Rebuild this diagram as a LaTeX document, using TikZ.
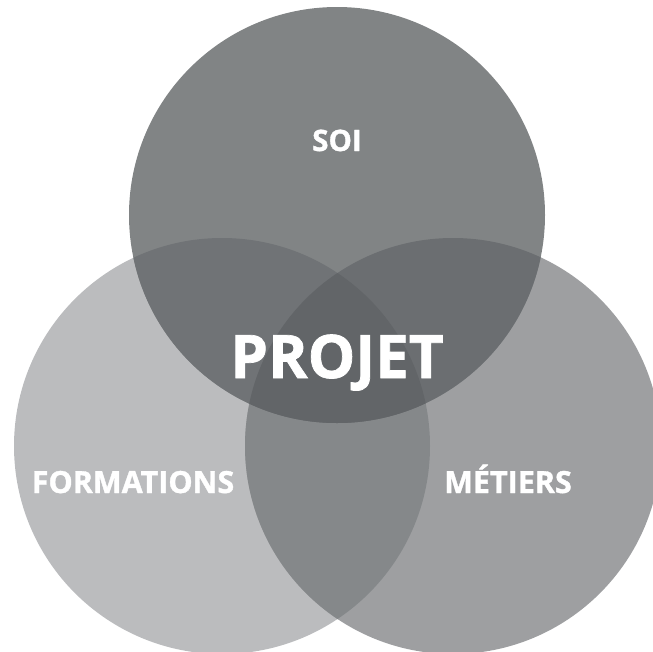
\documentclass[tikz,border=0pt]{standalone}
\usepackage{fontspec}
\setmainfont{Open Sans}[BoldFeatures={FakeBold=1.2}]
\usetikzlibrary{positioning}
\usepackage{xcolor}

\definecolor{soigray}{HTML}{818485}
\definecolor{formgray}{HTML}{BBBCBE}
\definecolor{metgray}{HTML}{9E9FA1}
\definecolor{soiform}{HTML}{707376}
\definecolor{soimet}{HTML}{6B6E71}
\definecolor{formmet}{HTML}{85888A}
\definecolor{projgray}{HTML}{626568}

\begin{document}
\begin{tikzpicture}[x=1pt,y=-1pt]
                \tikzstyle{venntext} = [text=white, font=\bfseries, inner sep=0pt, anchor=base];

                \useasboundingbox (0,0) rectangle (653,651);
                \clip (0,0) rectangle (653,651);

                \coordinate (S) at (337,215);
                \coordinate (F) at (222,446);
                \coordinate (M) at (453,446);
                \def\rad{208}

                % circles
                \fill[formgray] (F) circle (\rad);
                \fill[metgray] (M) circle (\rad);
                \fill[soigray] (S) circle (\rad);

                % overlaps
                \begin{scope}
                    \clip (F) circle (\rad);
                    \fill[formmet] (M) circle (\rad);
                \end{scope}
                \begin{scope}
                    \clip (S) circle (\rad);
                    \fill[soiform] (F) circle (\rad);
                \end{scope}
                \begin{scope}
                    \clip (S) circle (\rad);
                    \fill[soimet] (M) circle (\rad);
                \end{scope}
                \begin{scope}
                    \clip (S) circle (\rad);
                    \clip (F) circle (\rad);
                    \fill[projgray] (M) circle (\rad);
                \end{scope}

                \node[venntext, font=\bfseries\fontsize{29.5}{29.5}\selectfont](soi) at (337,151) {SOI};
                \node[venntext, font=\bfseries\fontsize{60}{60}\selectfont](projet) at (337,378) {PROJET};
                \node[venntext, font=\bfseries\fontsize{30.5}{30.5}\selectfont](formations) at (133,493) {FORMATIONS};
                \node[venntext, font=\bfseries\fontsize{30.5}{30.5}\selectfont](metiers) at (508,493) {MÉTIERS};
\end{tikzpicture}
\end{document}
